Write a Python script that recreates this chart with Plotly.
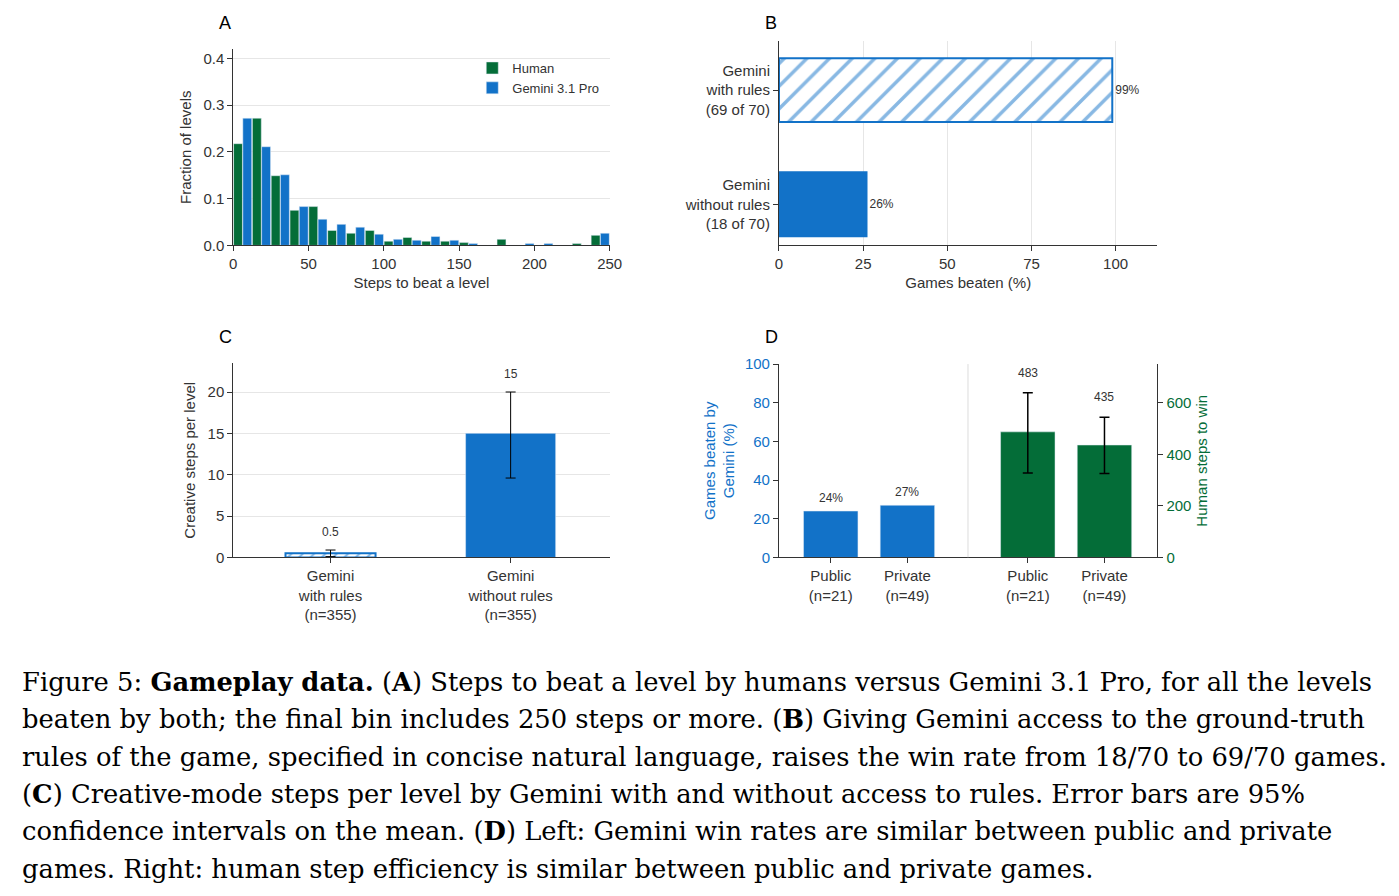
import plotly.graph_objects as go

W, H = 1399, 896
def dx(p): return ((p - 9.8) / 0.992) / W
def dy(p): return 1 - ((p - 15.9) / 0.984) / H

# ---- data ----
bin_centers = [6.25 + 12.5 * i for i in range(20)]
human_frac = [0.2175, 0.272, 0.149, 0.075, 0.083, 0.032, 0.026, 0.032, 0.009, 0.017,
              0.009, 0.009, 0.006, 0.0, 0.013, 0.0, 0.0, 0.0, 0.004, 0.0215]
gemini_frac = [0.272, 0.211, 0.151, 0.083, 0.056, 0.045, 0.039, 0.024, 0.013, 0.011,
               0.019, 0.011, 0.004, 0.0, 0.0, 0.004, 0.004, 0.0, 0.0, 0.026]

b_labels = ["Gemini<br>without rules<br>(18 of 70)", "Gemini<br>with rules<br>(69 of 70)"]
b_values = [26, 99]
b_text = ["26%", "99%"]

c_labels = ["Gemini<br>with rules<br>(n=355)", "Gemini<br>without rules<br>(n=355)"]
c_values = [0.5, 15]
c_hi = [0.9, 20.0]
c_lo = [0.1, 9.6]
c_text = ["0.5", "15"]

d_labels = ["Public<br>(n=21)", "Private<br>(n=49)", "Public<br>(n=21)", "Private<br>(n=49)"]
d_pos = [0, 1, 2.57, 3.57]
d_win = [24, 27]
d_win_text = ["24%", "27%"]
d_steps = [487, 436]
d_steps_hi = [639, 544]
d_steps_lo = [328, 326]
d_steps_text = ["483", "435"]

caption_lines = [
    "Figure 5: <b>Gameplay data.</b> (<b>A</b>) Steps to beat a level by humans versus Gemini 3.1 Pro, for all the levels",
    "beaten by both; the final bin includes 250 steps or more. (<b>B</b>) Giving Gemini access to the ground-truth",
    "rules of the game, specified in concise natural language, raises the win rate from 18/70 to 69/70 games.",
    "(<b>C</b>) Creative-mode steps per level by Gemini with and without access to rules. Error bars are 95%",
    "confidence intervals on the mean. (<b>D</b>) Left: Gemini win rates are similar between public and private",
    "games. Right: human step efficiency is similar between public and private games.",
]

GREEN = "#046d38"
BLUE = "#1272c8"
GRAY = "#333333"
FONT = "Liberation Sans"

fig = go.Figure()

# ---- A ----
fig.add_trace(go.Bar(x=bin_centers, y=human_frac, width=5.9, offset=-6.05, marker_color=GREEN,
                     name="Human", xaxis="x", yaxis="y"))
fig.add_trace(go.Bar(x=bin_centers, y=gemini_frac, width=5.9, offset=0.1, marker_color=BLUE,
                     name="Gemini 3.1 Pro", xaxis="x", yaxis="y"))

# ---- B ----
fig.add_trace(go.Bar(y=[0], x=b_values[:1], orientation="h", width=0.56, showlegend=False,
                     marker=dict(color=BLUE, line=dict(color=BLUE, width=2)),
                     text=b_text[:1], textposition="outside", textfont=dict(size=12, color=GRAY),
                     cliponaxis=False, xaxis="x2", yaxis="y2"))
fig.add_trace(go.Bar(y=[1], x=b_values[1:], orientation="h", width=0.56, showlegend=False,
                     marker=dict(color="white", line=dict(color=BLUE, width=2),
                                 pattern=dict(shape="/", fgcolor=BLUE, bgcolor="white",
                                              size=16, solidity=0.22, fillmode="overlay")),
                     text=b_text[1:], textposition="outside", textfont=dict(size=12, color=GRAY),
                     cliponaxis=False, xaxis="x2", yaxis="y2"))

# ---- C ----
c_err = dict(type="data", symmetric=False,
             array=[h - v for h, v in zip(c_hi, c_values)],
             arrayminus=[v - l for l, v in zip(c_lo, c_values)],
             color="black", thickness=1, width=5)
fig.add_trace(go.Bar(x=[0], y=c_values[:1], width=0.5, showlegend=False,
                     marker=dict(color="white", line=dict(color=BLUE, width=2),
                                 pattern=dict(shape="/", fgcolor=BLUE, bgcolor="white",
                                              size=8, solidity=0.25, fillmode="overlay")),
                     error_y=dict(c_err, array=c_err["array"][:1], arrayminus=c_err["arrayminus"][:1]),
                     xaxis="x3", yaxis="y3"))
fig.add_trace(go.Bar(x=[1], y=c_values[1:], width=0.5, showlegend=False,
                     marker=dict(color=BLUE),
                     error_y=dict(c_err, array=c_err["array"][1:], arrayminus=c_err["arrayminus"][1:]),
                     xaxis="x3", yaxis="y3"))

# ---- D ----
fig.add_trace(go.Bar(x=d_pos[:2], y=d_win, width=0.71, marker_color=BLUE, showlegend=False,
                     xaxis="x4", yaxis="y4"))
fig.add_trace(go.Bar(x=d_pos[2:], y=d_steps, width=0.71, marker_color=GREEN, showlegend=False,
                     error_y=dict(type="data", symmetric=False,
                                  array=[h - v for h, v in zip(d_steps_hi, d_steps)],
                                  arrayminus=[v - l for l, v in zip(d_steps_lo, d_steps)],
                                  color="black", thickness=1.5, width=5),
                     xaxis="x4", yaxis="y5"))

tick = dict(size=15, color=GRAY)
ax = dict(showline=True, linecolor=GRAY, linewidth=1, ticks="outside", ticklen=5,
          tickcolor=GRAY, tickfont=tick, zeroline=False, showgrid=False)

anns = []
for letter, x, y in [("A", 224, 22), ("B", 772, 22), ("C", 224, 337), ("D", 772, 337)]:
    anns.append(dict(text=letter, x=dx(x), y=dy(y), xref="paper", yref="paper",
                     xanchor="center", yanchor="middle",
                     showarrow=False, font=dict(size=18, color="black")))
anns.append(dict(text="H 9; G 9 at  ≥ 250", x=600, y=0.058, xref="x", yref="y",
                 showarrow=False, font=dict(size=11, color=GRAY)))
for xi, t in zip([0, 1], c_text):
    anns.append(dict(text=t, x=xi, y=c_hi[xi], xref="x3", yref="y3", yshift=18,
                     showarrow=False, font=dict(size=12, color=GRAY)))
for xi, v, t in zip(d_pos[:2], d_win, d_win_text):
    anns.append(dict(text=t, x=xi, y=v, xref="x4", yref="y4", yshift=13,
                     showarrow=False, font=dict(size=12, color=GRAY)))
for xi, hi, t in zip(d_pos[2:], d_steps_hi, d_steps_text):
    anns.append(dict(text=t, x=xi, y=hi, xref="x4", yref="y5", yshift=20,
                     showarrow=False, font=dict(size=12, color=GRAY)))

for i, line in enumerate(caption_lines):
    anns.append(dict(text=line, x=dx(18), y=dy(683 + 37.4 * i), xref="paper", yref="paper",
                     xanchor="left", yanchor="middle", align="left", showarrow=False,
                     font=dict(family="DejaVu Serif", size=25.8, color="black")))

shapes = [dict(type="line", x0=1.79, x1=1.79, y0=0, y1=100, xref="x4", yref="y4",
               line=dict(color="#dddddd", width=1))]

fig.update_layout(
    width=W, height=H, margin=dict(l=0, r=0, t=0, b=0),
    paper_bgcolor="white", plot_bgcolor="white",
    font=dict(family=FONT, color=GRAY),
    barmode="overlay", annotations=anns, shapes=shapes,
    legend=dict(x=dx(472), y=dy(52), xanchor="left", yanchor="top",
                font=dict(size=13, color=GRAY), bgcolor="rgba(0,0,0,0)"),
    xaxis=dict(**ax, domain=[dx(232), dx(610)], range=[0, 250], tickvals=[0, 50, 100, 150, 200, 250],
               title=dict(text="Steps to beat a level", font=dict(size=15), standoff=6), anchor="y"),
    yaxis=dict(**{**ax, "showgrid": True}, gridcolor="#e6e6e6", domain=[dy(245), dy(48)],
               range=[0, 0.42], tickvals=[0, 0.1, 0.2, 0.3, 0.4], tickformat=".1f",
               title=dict(text="Fraction of levels", font=dict(size=15), standoff=8), anchor="x"),
    xaxis2=dict(**{**ax, "showgrid": True}, gridcolor="#e6e6e6", domain=[dx(780), dx(1160)],
                range=[0, 112.4], tickvals=[0, 25, 50, 75, 100],
                title=dict(text="Games beaten (%)", font=dict(size=15), standoff=6), anchor="y2"),
    yaxis2=dict(**ax, domain=[dy(245), dy(40)], range=[-0.36, 1.43], tickvals=[0, 1],
                ticktext=b_labels, anchor="x2"),
    xaxis3=dict(**ax, domain=[dx(232), dx(610)], range=[-0.54, 1.55], tickvals=[0, 1],
                ticktext=c_labels, anchor="y3"),
    yaxis3=dict(**{**ax, "showgrid": True}, gridcolor="#e6e6e6", domain=[dy(558), dy(363)],
                range=[0, 23.5], tickvals=[0, 5, 10, 15, 20],
                title=dict(text="Creative steps per level", font=dict(size=15), standoff=8), anchor="x3"),
    xaxis4=dict(**ax, domain=[dx(780), dx(1160)], range=[-0.675, 4.26], tickvals=d_pos,
                ticktext=d_labels, anchor="y4"),
    yaxis4=dict(**{**ax, "tickfont": dict(size=15, color=BLUE)},
                domain=[dy(558), dy(364)], range=[0, 100], tickvals=[0, 20, 40, 60, 80, 100],
                title=dict(text="Games beaten by<br>Gemini (%)", font=dict(size=15, color=BLUE), standoff=6),
                anchor="x4"),
    yaxis5=dict(**{**ax, "tickfont": dict(size=15, color=GREEN)}, overlaying="y4", side="right",
                range=[0, 750], tickvals=[0, 200, 400, 600], anchor="x4",
                title=dict(text="Human steps to win", font=dict(size=15, color=GREEN), standoff=6)),
)

fig.write_html("out.html")
